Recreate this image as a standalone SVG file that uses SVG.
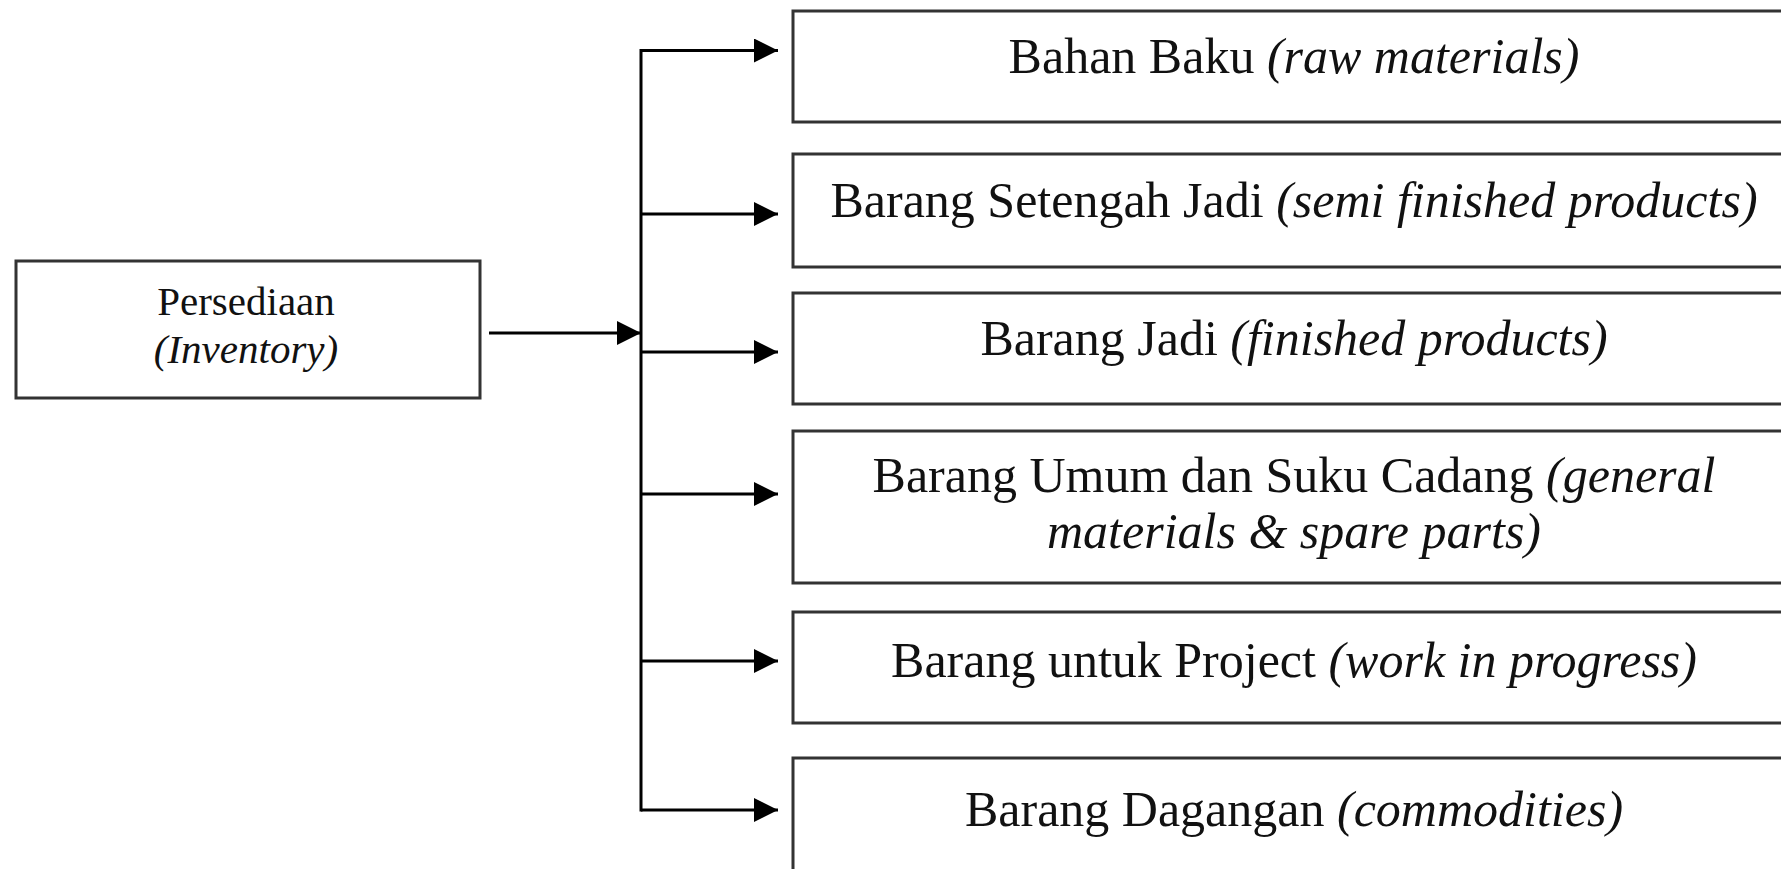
<svg xmlns="http://www.w3.org/2000/svg" width="1781" height="869" viewBox="0 0 1781 869">
<style>
.box{fill:#fff;stroke:#333;stroke-width:3}
.t{font-family:"Liberation Serif","Times New Roman",serif;fill:#111;text-anchor:middle}
.r{font-size:50px}
.l{font-size:41px}
.i{font-style:italic}
.c{stroke:#000;stroke-width:3;fill:none}
</style>
<defs>
<marker id="ah" viewBox="0 0 24 24" markerWidth="24" markerHeight="24" refX="24" refY="12" orient="auto" markerUnits="userSpaceOnUse">
<path d="M0,0 L24,12 L0,24 z" fill="#000"/>
</marker>
</defs>
<rect width="1781" height="869" fill="#fff"/>
<g id="connectors">
<line class="c" x1="489" y1="333" x2="641" y2="333" marker-end="url(#ah)"/>
<line class="c" x1="641" y1="49" x2="641" y2="811.5"/>
<line class="c" x1="641" y1="50.5" x2="778" y2="50.5" marker-end="url(#ah)"/>
<line class="c" x1="641" y1="214" x2="778" y2="214" marker-end="url(#ah)"/>
<line class="c" x1="641" y1="352" x2="778" y2="352" marker-end="url(#ah)"/>
<line class="c" x1="641" y1="494" x2="778" y2="494" marker-end="url(#ah)"/>
<line class="c" x1="641" y1="661" x2="778" y2="661" marker-end="url(#ah)"/>
<line class="c" x1="641" y1="810" x2="778" y2="810" marker-end="url(#ah)"/>
</g>
<g id="persediaan">
<rect class="box" x="16" y="261" width="464" height="137"/>
<text class="t l" x="246" y="315">Persediaan</text>
<text class="t l i" x="246" y="363">(Inventory)</text>
</g>
<g id="bahan-baku">
<rect class="box" x="793" y="11" width="1000" height="111"/>
<text class="t r" x="1294" y="73">Bahan Baku <tspan class="i">(raw materials)</tspan></text>
</g>
<g id="setengah-jadi">
<rect class="box" x="793" y="154" width="1000" height="113"/>
<text class="t r" x="1294" y="217">Barang Setengah Jadi <tspan class="i">(semi finished products)</tspan></text>
</g>
<g id="barang-jadi">
<rect class="box" x="793" y="293" width="1000" height="111"/>
<text class="t r" x="1294" y="355">Barang Jadi <tspan class="i">(finished products)</tspan></text>
</g>
<g id="umum-suku-cadang">
<rect class="box" x="793" y="431" width="1000" height="152"/>
<text class="t r" x="1294" y="492">Barang Umum dan Suku Cadang <tspan class="i">(general</tspan></text>
<text class="t r i" x="1294" y="548">materials &amp; spare parts)</text>
</g>
<g id="project">
<rect class="box" x="793" y="612" width="1000" height="111"/>
<text class="t r" x="1294" y="677">Barang untuk Project <tspan class="i">(work in progress)</tspan></text>
</g>
<g id="dagangan">
<rect class="box" x="793" y="758" width="1000" height="125"/>
<text class="t r" x="1294" y="826">Barang Dagangan <tspan class="i">(commodities)</tspan></text>
</g>
</svg>
